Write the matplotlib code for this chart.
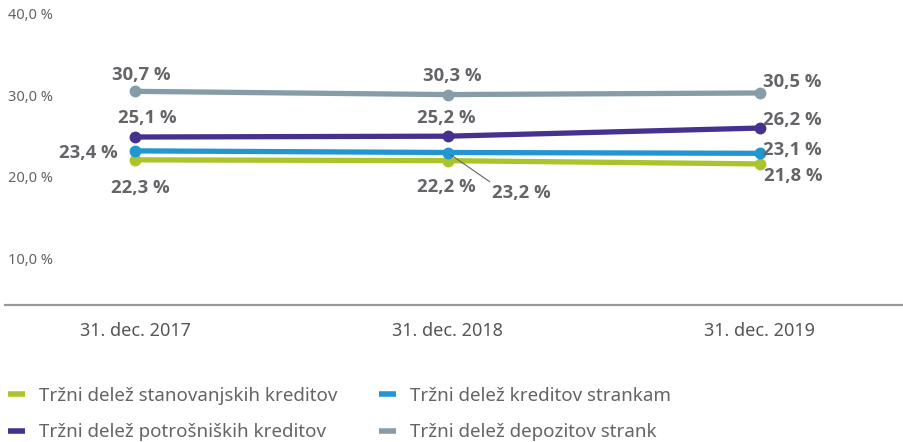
import matplotlib.pyplot as plt
from matplotlib.lines import Line2D

plt.rcParams['font.family'] = ['Noto Sans', 'DejaVu Sans']

# data
dates = ['31. dec. 2017', '31. dec. 2018', '31. dec. 2019']
stanovanjski = [22.3, 22.2, 21.8]
potrosniski = [25.1, 25.2, 26.2]
krediti_strankam = [23.4, 23.2, 23.1]
depoziti = [30.7, 30.3, 30.5]
y_ticks = [10, 20, 30, 40]

series = [
    ('Tržni delež stanovanjskih kreditov', stanovanjski, '#a9c52b'),
    ('Tržni delež potrošniških kreditov', potrosniski, '#46318e'),
    ('Tržni delež kreditov strankam', krediti_strankam, '#2196d3'),
    ('Tržni delež depozitov strank', depoziti, '#869ca8'),
]

# label offsets in pixels (dx, dy) per series/point
offsets = {
    'Tržni delež depozitov strank': [(6, 16), (5, 19), (32, 11)],
    'Tržni delež potrošniških kreditov': [(12, 19), (-1, 18), (32, 8)],
    'Tržni delež kreditov strankam': [(-47, -2), (74, -41), (32, 3)],
    'Tržni delež stanovanjskih kreditov': [(5, -28), (-1, -26), (33, -12)],
}

W, H = 904, 442
fig = plt.figure(figsize=(W / 100, H / 100), dpi=100)
ax = fig.add_axes([5 / W, 1 - 305 / H, 899 / W, 305 / H])

x = list(range(len(dates)))
for name, vals, col in series:
    ax.plot(x, vals, color=col, lw=3.8, marker='o', ms=7.5, solid_capstyle='round', zorder=3)
    for i, v in enumerate(vals):
        dx, dy = offsets[name][i]
        txt = f'{v:.1f} %'.replace('.', ',')
        kw = dict(xytext=(dx * 0.72, dy * 0.72), textcoords='offset points',
                  ha='center', va='center', fontsize=13.3, fontweight='bold',
                  family=['Open Sans', 'DejaVu Sans'], color='#646469')
        if name == 'Tržni delež kreditov strankam' and i == 1:
            kw['arrowprops'] = dict(arrowstyle='-', color='#646469', lw=0.8,
                                    shrinkA=0, shrinkB=3, relpos=(0.05, 0.95))
        ax.annotate(txt, (i, v), **kw)

ax.set_xlim(-130 / 312.5, 2 + 144 / 312.5)
ax.set_ylim(4.5, 41.9)

for s in ['top', 'left', 'right']:
    ax.spines[s].set_visible(False)
ax.spines['bottom'].set_color('#9a9a9a')
ax.spines['bottom'].set_linewidth(1.6)

ax.set_xticks(x)
ax.set_xticklabels(dates, fontsize=13, color='#555555')
ax.tick_params(axis='x', length=0, pad=12)
ax.set_yticks([])
for t in y_ticks:
    ax.text(3 / 899, t, f'{t:.1f} %'.replace('.', ','), transform=ax.get_yaxis_transform(),
            ha='left', va='center', fontsize=10.5, color='#646469')

handles = [Line2D([], [], color=c, lw=4, solid_capstyle='butt') for _, _, c in series]
fig.legend(handles, [n for n, _, _ in series], ncol=2, loc='lower left',
           bbox_to_anchor=(0.0, -0.017), frameon=False, fontsize=13.5, labelcolor='#646469',
           handlelength=0.9, handletextpad=0.75, columnspacing=2.2, labelspacing=0.98,
           borderaxespad=0.0, borderpad=0.45)

fig.savefig('out.png', dpi=100)
